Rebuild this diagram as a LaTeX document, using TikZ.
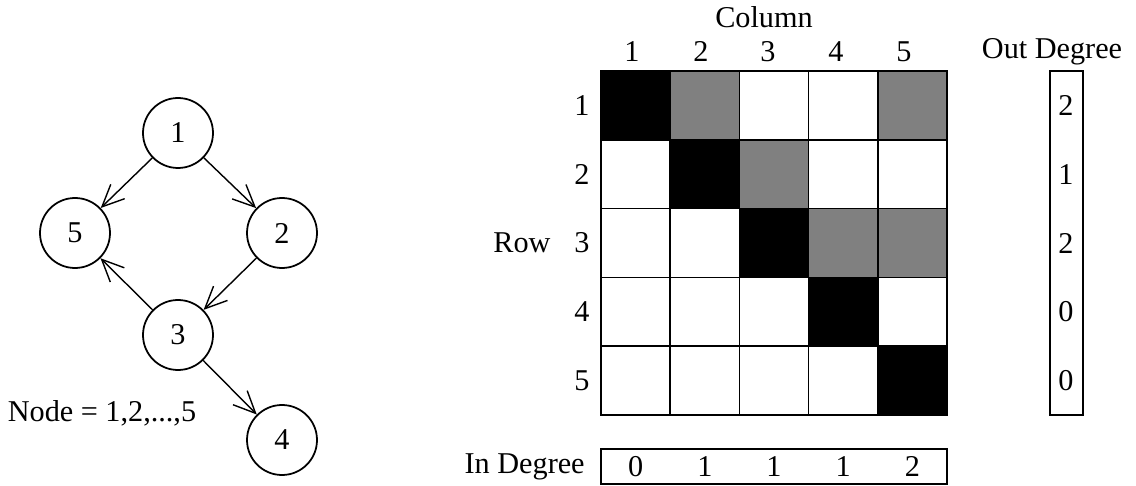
\documentclass[tikz,border=0pt]{standalone}
\usepackage{fontspec}
\setmainfont{Liberation Serif}
\usetikzlibrary{arrows.meta,positioning}
\newcommand{\figfont}{\fontsize{17.2}{20}\selectfont}
\tikzset{
  vertexnode/.style={circle, draw=black, line width=1pt, minimum size=1.4cm,
    inner sep=0pt},
  cellnode/.style={draw=black, line width=1pt, fill=#1, minimum width=1.384cm,
    minimum height=1.376cm, inner sep=0pt},
  degreebox/.style={draw=black, line width=1pt, inner sep=0pt},
  edgearrow/.style={-{Straight Barb[length=4.4mm, width=4mm]}, line width=0.8pt},
}

\begin{document}
\begin{tikzpicture}[font=\figfont]
      \useasboundingbox (0,0) rectangle (22.72,9.70);

      %% ---- directed graph ----
      \node[vertexnode] (v1) at (3.56,7.04) {1};
      \node[vertexnode] (v5) at (1.50,5.04) {5};
      \node[vertexnode] (v2) at (5.64,5.04) {2};
      \node[vertexnode] (v3) at (3.56,3.00) {3};
      \node[vertexnode] (v4) at (5.64,0.90) {4};
      \draw[edgearrow] (v1) -- (v5);
      \draw[edgearrow] (v1) -- (v2);
      \draw[edgearrow] (v2) -- (v3);
      \draw[edgearrow] (v3) -- (v5);
      \draw[edgearrow] (v3) -- (v4);
      \node (nodelist) at (2.04,1.44) {Node = 1,2,...,5};

      %% ---- adjacency matrix ----
      \foreach \r/\row in {1/{black,gray,white,white,gray},
                           2/{white,black,gray,white,white},
                           3/{white,white,black,gray,gray},
                           4/{white,white,white,black,white},
                           5/{white,white,white,white,black}}{
        \foreach \shade [count=\c] in \row {
          \node[cellnode=\shade] (c\r\c)
                at ({12.02+(\c-0.5)*1.384},{8.28-(\r-0.5)*1.376}) {};
        }
        \node (rowlab\r) at (11.64,{8.28-(\r-0.5)*1.376}) {\r};
      }
      \node (rowtitle) at (10.44,4.84) {Row};
      \foreach \c/\px in {1/12.64,2/14.02,3/15.36,4/16.72,5/18.08}{
        \node (collab\c) at (\px,8.66) {\c};}
      \node (coltitle) at (15.28,9.36) {Column};

      %% ---- out degree ----
      \node[degreebox, minimum width=0.66cm, minimum height=6.88cm]
            (outbox) at (21.33,4.84) {};
      \node (outtitle) at (21.04,8.66) {Out Degree};
      \foreach \r/\val in {1/2,2/1,3/2,4/0,5/0}{
        \node (out\r) at (21.32,{8.28-(\r-0.5)*1.376}) {\val};}

      %% ---- in degree ----
      \node[degreebox, minimum width=6.92cm, minimum height=0.70cm]
            (inbox) at (15.48,0.37) {};
      \node[anchor=east, inner sep=0pt] (intitle) at (11.70,0.37) {In Degree};
      \foreach \c/\val in {1/0,2/1,3/1,4/1,5/2}{
        \node (in\c) at ({12.02+(\c-0.5)*1.384},0.37) {\val};}
\end{tikzpicture}
\end{document}
